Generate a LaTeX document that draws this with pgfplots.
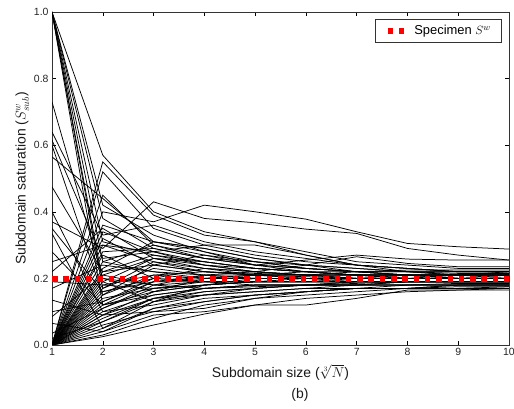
\documentclass[border=0pt]{standalone}
\usepackage{fontspec}
\setmainfont{Liberation Sans}
\usepackage{pgfplots}
\pgfplotsset{compat=1.18}
\begin{document}
\begin{tikzpicture}
\useasboundingbox (-52bp,-64bp) rectangle (462bp,345bp);
\begin{axis}[
  at={(0,0)}, anchor=south west,
  scale only axis, width=457bp, height=333bp,
  xmin=1, xmax=10, ymin=0, ymax=1,
  xtick={1,2,3,4,5,6,7,8,9,10},
  ytick={0,0.2,0.4,0.6,0.8,1.0},
  yticklabel style={/pgf/number format/.cd, fixed, fixed zerofill, precision=1},
  /pgf/number format/assume math mode=true,
  tick align=inside, major tick length=4bp,
  tick style={black, line width=0.5bp},
  axis line style={line width=0.8bp, black!80},
  ticklabel style={font=\fontsize{10.5}{12}\selectfont, text=black!85},
  label style={font=\fontsize{14}{16}\selectfont, text=black!90},
  xlabel={Subdomain size ($\sqrt[3]{N}$)},
  ylabel={Subdomain saturation ($S^{w}_{sub}$)},
  xlabel style={yshift=-2bp},
  ylabel style={yshift=-2bp},
  legend style={at={(0.984,0.979)}, anchor=north east, draw=black!80, line width=0.8bp,
    font=\fontsize{13}{15}\selectfont, inner xsep=9bp, inner ysep=4.5bp, outer sep=0pt},
  legend cell align=left,
  blk/.style={black, line width=0.75bp, forget plot},
]
% series starting at 1.0
\addplot[blk] coordinates {(1,1.00)(2,0.12)(3,0.19)(4,0.20)(5,0.21)(6,0.20)(7,0.20)(8,0.20)(9,0.20)(10,0.20)};
\addplot[blk] coordinates {(1,1.00)(2,0.17)(3,0.23)(4,0.21)(5,0.20)(6,0.20)(7,0.19)(8,0.19)(9,0.19)(10,0.19)};
\addplot[blk] coordinates {(1,1.00)(2,0.19)(3,0.26)(4,0.24)(5,0.22)(6,0.21)(7,0.21)(8,0.20)(9,0.20)(10,0.20)};
\addplot[blk] coordinates {(1,1.00)(2,0.25)(3,0.30)(4,0.27)(5,0.24)(6,0.22)(7,0.21)(8,0.21)(9,0.20)(10,0.21)};
\addplot[blk] coordinates {(1,1.00)(2,0.38)(3,0.29)(4,0.26)(5,0.25)(6,0.23)(7,0.22)(8,0.21)(9,0.21)(10,0.21)};
\addplot[blk] coordinates {(1,1.00)(2,0.42)(3,0.33)(4,0.28)(5,0.25)(6,0.24)(7,0.22)(8,0.22)(9,0.21)(10,0.21)};
\addplot[blk] coordinates {(1,1.00)(2,0.57)(3,0.40)(4,0.34)(5,0.31)(6,0.27)(7,0.24)(8,0.22)(9,0.22)(10,0.22)};
\addplot[blk] coordinates {(1,1.00)(2,0.31)(3,0.27)(4,0.25)(5,0.23)(6,0.22)(7,0.21)(8,0.21)(9,0.21)(10,0.20)};
% intermediate starts
\addplot[blk] coordinates {(1,0.73)(2,0.20)(3,0.18)(4,0.19)(5,0.19)(6,0.19)(7,0.19)(8,0.19)(9,0.19)(10,0.19)};
\addplot[blk] coordinates {(1,0.64)(2,0.33)(3,0.36)(4,0.31)(5,0.28)(6,0.26)(7,0.24)(8,0.23)(9,0.22)(10,0.22)};
\addplot[blk] coordinates {(1,0.615)(2,0.26)(3,0.28)(4,0.25)(5,0.23)(6,0.22)(7,0.21)(8,0.20)(9,0.20)(10,0.20)};
\addplot[blk] coordinates {(1,0.60)(2,0.15)(3,0.21)(4,0.22)(5,0.21)(6,0.21)(7,0.20)(8,0.20)(9,0.20)(10,0.20)};
\addplot[blk] coordinates {(1,0.565)(2,0.44)(3,0.31)(4,0.29)(5,0.26)(6,0.24)(7,0.23)(8,0.22)(9,0.21)(10,0.21)};
\addplot[blk] coordinates {(1,0.475)(2,0.22)(3,0.24)(4,0.22)(5,0.21)(6,0.21)(7,0.20)(8,0.20)(9,0.20)(10,0.20)};
\addplot[blk] coordinates {(1,0.40)(2,0.10)(3,0.15)(4,0.17)(5,0.18)(6,0.18)(7,0.19)(8,0.19)(9,0.19)(10,0.19)};
\addplot[blk] coordinates {(1,0.37)(2,0.29)(3,0.43)(4,0.38)(5,0.367)(6,0.348)(7,0.335)(8,0.29)(9,0.27)(10,0.255)};
\addplot[blk] coordinates {(1,0.35)(2,0.16)(3,0.20)(4,0.19)(5,0.19)(6,0.19)(7,0.19)(8,0.19)(9,0.19)(10,0.19)};
\addplot[blk] coordinates {(1,0.335)(2,0.05)(3,0.13)(4,0.16)(5,0.17)(6,0.18)(7,0.18)(8,0.18)(9,0.18)(10,0.18)};
\addplot[blk] coordinates {(1,0.25)(2,0.30)(3,0.28)(4,0.24)(5,0.23)(6,0.22)(7,0.21)(8,0.21)(9,0.20)(10,0.20)};
\addplot[blk] coordinates {(1,0.19)(2,0.18)(3,0.17)(4,0.18)(5,0.19)(6,0.19)(7,0.19)(8,0.19)(9,0.19)(10,0.19)};
\addplot[blk] coordinates {(1,0.17)(2,0.24)(3,0.22)(4,0.20)(5,0.20)(6,0.20)(7,0.20)(8,0.20)(9,0.20)(10,0.20)};
\addplot[blk] coordinates {(1,0.135)(2,0.09)(3,0.14)(4,0.16)(5,0.17)(6,0.18)(7,0.18)(8,0.18)(9,0.18)(10,0.18)};
\addplot[blk] coordinates {(1,0.10)(2,0.13)(3,0.19)(4,0.21)(5,0.21)(6,0.20)(7,0.20)(8,0.20)(9,0.20)(10,0.20)};
\addplot[blk] coordinates {(1,0.085)(2,0.21)(3,0.26)(4,0.25)(5,0.23)(6,0.22)(7,0.21)(8,0.21)(9,0.20)(10,0.20)};
\addplot[blk] coordinates {(1,0.065)(2,0.04)(3,0.11)(4,0.13)(5,0.15)(6,0.16)(7,0.17)(8,0.17)(9,0.18)(10,0.18)};
\addplot[blk] coordinates {(1,0.035)(2,0.11)(3,0.17)(4,0.19)(5,0.19)(6,0.19)(7,0.19)(8,0.19)(9,0.19)(10,0.19)};
\addplot[blk] coordinates {(1,0.02)(2,0.07)(3,0.14)(4,0.17)(5,0.18)(6,0.18)(7,0.19)(8,0.19)(9,0.19)(10,0.19)};
\addplot[blk] coordinates {(1,0.28)(2,0.12)(3,0.16)(4,0.18)(5,0.19)(6,0.20)(7,0.20)(8,0.20)(9,0.21)(10,0.21)};
\addplot[blk] coordinates {(1,0.22)(2,0.35)(3,0.26)(4,0.23)(5,0.22)(6,0.21)(7,0.21)(8,0.21)(9,0.21)(10,0.22)};
% series starting at 0
\addplot[blk] coordinates {(1,0)(2,0.40)(3,0.37)(4,0.42)(5,0.40)(6,0.378)(7,0.34)(8,0.305)(9,0.295)(10,0.288)};
\addplot[blk] coordinates {(1,0)(2,0.55)(3,0.39)(4,0.33)(5,0.31)(6,0.28)(7,0.25)(8,0.24)(9,0.23)(10,0.23)};
\addplot[blk] coordinates {(1,0)(2,0.52)(3,0.35)(4,0.30)(5,0.27)(6,0.25)(7,0.24)(8,0.23)(9,0.22)(10,0.22)};
\addplot[blk] coordinates {(1,0)(2,0.45)(3,0.30)(4,0.26)(5,0.24)(6,0.23)(7,0.22)(8,0.21)(9,0.21)(10,0.21)};
\addplot[blk] coordinates {(1,0)(2,0.36)(3,0.31)(4,0.28)(5,0.24)(6,0.255)(7,0.27)(8,0.258)(9,0.255)(10,0.255)};
\addplot[blk] coordinates {(1,0)(2,0.30)(3,0.25)(4,0.23)(5,0.22)(6,0.24)(7,0.265)(8,0.245)(9,0.235)(10,0.235)};
\addplot[blk] coordinates {(1,0)(2,0.28)(3,0.29)(4,0.26)(5,0.24)(6,0.23)(7,0.22)(8,0.21)(9,0.21)(10,0.21)};
\addplot[blk] coordinates {(1,0)(2,0.25)(3,0.22)(4,0.21)(5,0.20)(6,0.20)(7,0.20)(8,0.20)(9,0.20)(10,0.20)};
\addplot[blk] coordinates {(1,0)(2,0.22)(3,0.27)(4,0.24)(5,0.22)(6,0.21)(7,0.21)(8,0.20)(9,0.20)(10,0.20)};
\addplot[blk] coordinates {(1,0)(2,0.20)(3,0.16)(4,0.18)(5,0.19)(6,0.19)(7,0.19)(8,0.19)(9,0.19)(10,0.19)};
\addplot[blk] coordinates {(1,0)(2,0.18)(3,0.21)(4,0.20)(5,0.20)(6,0.20)(7,0.20)(8,0.20)(9,0.20)(10,0.20)};
\addplot[blk] coordinates {(1,0)(2,0.16)(3,0.19)(4,0.19)(5,0.19)(6,0.19)(7,0.20)(8,0.20)(9,0.20)(10,0.20)};
\addplot[blk] coordinates {(1,0)(2,0.14)(3,0.17)(4,0.18)(5,0.19)(6,0.19)(7,0.19)(8,0.19)(9,0.19)(10,0.19)};
\addplot[blk] coordinates {(1,0)(2,0.12)(3,0.15)(4,0.17)(5,0.18)(6,0.18)(7,0.18)(8,0.19)(9,0.19)(10,0.19)};
\addplot[blk] coordinates {(1,0)(2,0.10)(3,0.12)(4,0.15)(5,0.16)(6,0.17)(7,0.18)(8,0.18)(9,0.18)(10,0.18)};
\addplot[blk] coordinates {(1,0)(2,0.08)(3,0.14)(4,0.15)(5,0.16)(6,0.17)(7,0.17)(8,0.18)(9,0.18)(10,0.18)};
\addplot[blk] coordinates {(1,0)(2,0.06)(3,0.10)(4,0.13)(5,0.15)(6,0.16)(7,0.17)(8,0.17)(9,0.17)(10,0.175)};
\addplot[blk] coordinates {(1,0)(2,0.04)(3,0.09)(4,0.10)(5,0.12)(6,0.12)(7,0.14)(8,0.165)(9,0.165)(10,0.165)};
\addplot[blk] coordinates {(1,0)(2,0.025)(3,0.06)(4,0.093)(5,0.12)(6,0.14)(7,0.15)(8,0.16)(9,0.165)(10,0.17)};
\addplot[blk] coordinates {(1,0)(2,0.09)(3,0.10)(4,0.11)(5,0.14)(6,0.16)(7,0.17)(8,0.17)(9,0.175)(10,0.175)};
\addplot[blk] coordinates {(1,0)(2,0.13)(3,0.20)(4,0.23)(5,0.21)(6,0.21)(7,0.20)(8,0.20)(9,0.20)(10,0.20)};
\addplot[blk] coordinates {(1,0)(2,0.11)(3,0.18)(4,0.21)(5,0.22)(6,0.21)(7,0.21)(8,0.21)(9,0.20)(10,0.20)};
\addplot[blk] coordinates {(1,0)(2,0.07)(3,0.13)(4,0.18)(5,0.20)(6,0.20)(7,0.20)(8,0.20)(9,0.20)(10,0.20)};
\addplot[blk] coordinates {(1,0)(2,0.23)(3,0.31)(4,0.29)(5,0.26)(6,0.24)(7,0.23)(8,0.22)(9,0.22)(10,0.22)};
\addplot[blk] coordinates {(1,0)(2,0.15)(3,0.24)(4,0.27)(5,0.25)(6,0.23)(7,0.22)(8,0.21)(9,0.21)(10,0.21)};
\addplot[blk] coordinates {(1,0)(2,0.34)(3,0.28)(4,0.30)(5,0.30)(6,0.27)(7,0.24)(8,0.23)(9,0.22)(10,0.22)};
\addplot[blk] coordinates {(1,0)(2,0.05)(3,0.11)(4,0.14)(5,0.15)(6,0.16)(7,0.17)(8,0.17)(9,0.18)(10,0.18)};
\addplot[blk] coordinates {(1,0)(2,0.19)(3,0.13)(4,0.15)(5,0.17)(6,0.18)(7,0.18)(8,0.19)(9,0.19)(10,0.19)};
\addplot[blk] coordinates {(1,0)(2,0.27)(3,0.20)(4,0.19)(5,0.18)(6,0.18)(7,0.185)(8,0.19)(9,0.19)(10,0.19)};
\addplot[blk] coordinates {(1,0)(2,0.17)(3,0.25)(4,0.22)(5,0.21)(6,0.205)(7,0.20)(8,0.21)(9,0.21)(10,0.21)};
\addplot[blk] coordinates {(1,0)(2,0.03)(3,0.08)(4,0.12)(5,0.14)(6,0.15)(7,0.16)(8,0.17)(9,0.17)(10,0.17)};
\addplot[blk] coordinates {(1,0)(2,0.21)(3,0.18)(4,0.17)(5,0.175)(6,0.18)(7,0.18)(8,0.18)(9,0.185)(10,0.185)};
\addplot[blk] coordinates {(1,0)(2,0.32)(3,0.24)(4,0.22)(5,0.215)(6,0.21)(7,0.22)(8,0.225)(9,0.225)(10,0.225)};
\addplot[blk] coordinates {(1,0)(2,0.09)(3,0.16)(4,0.20)(5,0.21)(6,0.22)(7,0.22)(8,0.22)(9,0.215)(10,0.215)};
% specimen saturation
\addplot[red, line width=5.5bp, dash pattern=on 5.5bp off 5.8bp] coordinates {(1,0.198)(10,0.198)};
\addlegendentry{\hspace{5bp}Specimen $S^{w}$}
\end{axis}
\node[font=\fontsize{14}{16}\selectfont, text=black!90] at (248bp,-50bp) {(b)};
\end{tikzpicture}
\end{document}
